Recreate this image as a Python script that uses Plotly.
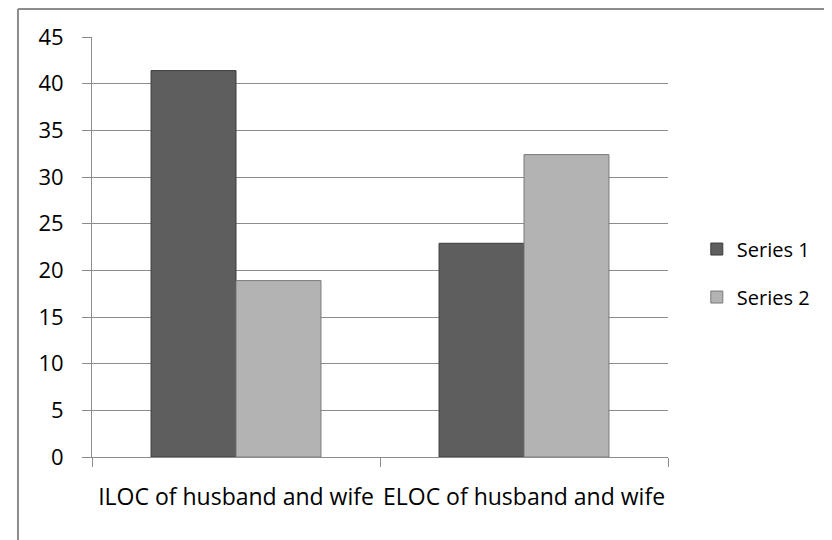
import plotly.graph_objects as go

categories = ["ILOC of husband and wife", "ELOC of husband and wife"]
series1 = [41.4, 22.9]
series2 = [18.9, 32.4]
series_names = ["Series 1", "Series 2"]
y_ticks = [0, 5, 10, 15, 20, 25, 30, 35, 40, 45]

FONT = "Open Sans"
fig = go.Figure()
fig.add_trace(go.Bar(x=categories, y=series1, name=series_names[0], legendgroup="a",
                     marker=dict(color="#5e5e5e", line=dict(color="#3c3c3c", width=1))))
fig.add_trace(go.Bar(x=categories, y=series2, name=series_names[1], legendgroup="b",
                     marker=dict(color="#b3b3b3", line=dict(color="#7a7a7a", width=1))))

fig.update_layout(
    width=832, height=540,
    margin=dict(l=84, r=172, t=29, b=91, autoexpand=False),
    paper_bgcolor="white", plot_bgcolor="white",
    barmode="group", bargap=0.41, bargroupgap=0,
    font=dict(family=FONT, size=20, color="#000000"),
    showlegend=True,
    legend=dict(x=1.050, y=0.438, xref="paper", yref="paper", xanchor="left", yanchor="middle",
                font=dict(size=20), tracegroupgap=19, bgcolor="rgba(0,0,0,0)"),
    xaxis=dict(showline=True, linecolor="#8c8c8c", linewidth=1, ticks="outside",
               tickson="boundaries", ticklen=9, tickcolor="#8c8c8c", showgrid=False,
               ticklabelstandoff=19, tickangle=0, tickfont=dict(size=23)),
    yaxis=dict(range=[0, 45], tickvals=y_ticks, showline=True, linecolor="#8c8c8c",
               linewidth=1, ticks="outside", ticklen=9, tickcolor="#8c8c8c",
               showgrid=True, gridcolor="#8c8c8c", gridwidth=1, zeroline=False,
               ticklabelstandoff=14, tickfont=dict(size=22)),
)

# outer chart border (left and top edges visible)
fig.add_shape(type="line", xref="paper", yref="paper", x0=-0.1285, x1=1.4, y0=1.0667, y1=1.0667,
              line=dict(color="#8c8c8c", width=2))
fig.add_shape(type="line", xref="paper", yref="paper", x0=-0.1285, x1=-0.1285, y0=-0.3, y1=1.0667,
              line=dict(color="#8c8c8c", width=2))

fig.write_html("out.html")
